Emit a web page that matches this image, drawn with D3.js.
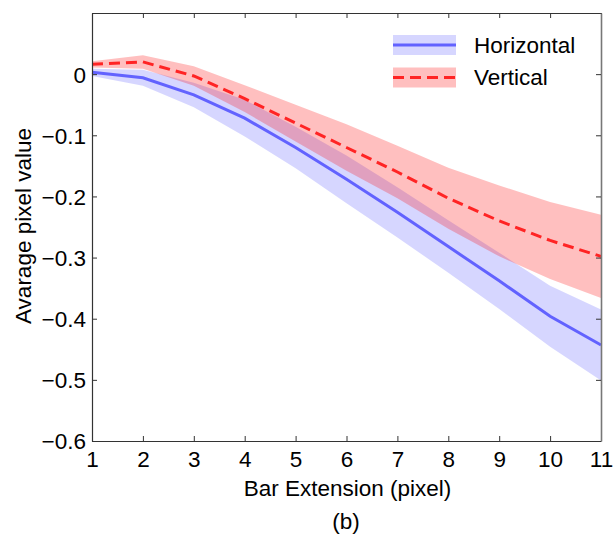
<!DOCTYPE html>
<html>
<head>
<meta charset="utf-8">
<script src="https://cdn.jsdelivr.net/npm/d3@7"></script>
<style>
  html, body { margin: 0; padding: 0; background: #fff; }
  svg { display: block; }
  text { font-family: "Liberation Sans", Arial, Helvetica, sans-serif; fill: #000; }
</style>
</head>
<body>
<svg id="chart" width="613" height="537"></svg>
<script>
// ---- data ----
const extensions = [1, 2, 3, 4, 5, 6, 7, 8, 9, 10, 11];
const horizontalMean = [0.003, -0.006, -0.034, -0.072, -0.120, -0.172, -0.226, -0.282, -0.338, -0.396, -0.443];
const horizontalStd  = [0.006, 0.013, 0.020, 0.030, 0.034, 0.039, 0.041, 0.043, 0.046, 0.050, 0.058];
const verticalMean   = [0.016, 0.020, -0.003, -0.040, -0.080, -0.120, -0.160, -0.203, -0.240, -0.272, -0.298];
const verticalStd    = [0.005, 0.011, 0.016, 0.022, 0.030, 0.038, 0.043, 0.050, 0.058, 0.063, 0.068];
const xTicks = [1, 2, 3, 4, 5, 6, 7, 8, 9, 10, 11];
const yTicks = [0, -0.1, -0.2, -0.3, -0.4, -0.5, -0.6];
const seriesNames = ["Horizontal", "Vertical"];

(function () {
const svg = d3.select("#chart");
const L = 92, R = 601, T = 13, B = 441;
const x = d3.scaleLinear().domain([1, 11]).range([L, R]);
const y = d3.scaleLinear().domain([-0.6, 0.1]).range([B, T]);

const series = [
  { name: seriesNames[0], mean: horizontalMean, std: horizontalStd, band: "rgba(0,0,255,0.16)", line: "#6262ff", dash: null },
  { name: seriesNames[1], mean: verticalMean, std: verticalStd, band: "rgba(255,0,0,0.25)", line: "#ff2424", dash: "11,6" }
];

const area = d3.area()
  .x((d, i) => x(extensions[i]))
  .y0(d => y(d.m - d.s))
  .y1(d => y(d.m + d.s));
const line = d3.line()
  .x((d, i) => x(extensions[i]))
  .y(d => y(d.m));

const plot = svg.append("g");
series.forEach(s => {
  const pts = s.mean.map((m, i) => ({ m: m, s: s.std[i] }));
  plot.append("path").attr("d", area(pts)).attr("fill", s.band).attr("stroke", "none");
});
series.forEach(s => {
  const pts = s.mean.map((m, i) => ({ m: m, s: s.std[i] }));
  plot.append("path").attr("d", line(pts)).attr("fill", "none")
    .attr("stroke", s.line).attr("stroke-width", 3)
    .attr("stroke-dasharray", s.dash);
});

// ---- axes ----
const fs = 22.5;
const axisColor = "#333";
const gBottom = svg.append("g").attr("transform", `translate(0,${B})`)
  .call(d3.axisBottom(x).tickValues(xTicks).tickSizeInner(-5).tickSizeOuter(0).tickPadding(10));
const gTop = svg.append("g").attr("transform", `translate(0,${T})`)
  .call(d3.axisTop(x).tickValues(xTicks).tickSizeInner(-5).tickSizeOuter(0).tickFormat(""));
const gLeft = svg.append("g").attr("transform", `translate(${L},0)`)
  .call(d3.axisLeft(y).tickValues(yTicks).tickSizeInner(-5).tickSizeOuter(0).tickPadding(6)
    .tickFormat(d => d === 0 ? "0" : d3.format(".1f")(d).replace("-", "\u2212")));
const gRight = svg.append("g").attr("transform", `translate(${R},0)`)
  .call(d3.axisRight(y).tickValues(yTicks).tickSizeInner(-5).tickSizeOuter(0).tickFormat(""));
[gBottom, gTop, gLeft, gRight].forEach(g => {
  g.select(".domain").attr("stroke", axisColor).attr("stroke-width", 1.2);
  g.selectAll(".tick line").attr("stroke", axisColor).attr("stroke-width", 1);
  g.selectAll("text").attr("font-size", fs).attr("font-family", "Liberation Sans, Arial, sans-serif").attr("fill", "#000");
});
gLeft.selectAll("text").attr("dy", "0.35em");
gRight.select(".domain").attr("stroke", "#777").attr("stroke-width", 1.6);

// ---- labels ----
svg.append("text").attr("x", (L + R) / 2 + 1).attr("y", 496)
  .attr("text-anchor", "middle").attr("font-size", fs).text("Bar Extension (pixel)");
svg.append("text").attr("transform", `translate(31,226) rotate(-90)`)
  .attr("text-anchor", "middle").attr("font-size", fs).text("Avarage pixel value");
svg.append("text").attr("x", 346).attr("y", 529)
  .attr("text-anchor", "middle").attr("font-size", fs).text("(b)");

// ---- legend ----
const legend = svg.append("g");
const rows = [{ s: series[0], cy: 45 }, { s: series[1], cy: 77.5 }];
rows.forEach(r => {
  legend.append("rect").attr("x", 393).attr("y", r.cy - 10).attr("width", 63).attr("height", 20)
    .attr("fill", r.s.band);
  legend.append("line").attr("x1", 393).attr("x2", 456).attr("y1", r.cy).attr("y2", r.cy)
    .attr("stroke", r.s.line).attr("stroke-width", 3).attr("stroke-dasharray", r.s.dash);
  legend.append("text").attr("x", 474).attr("y", r.cy).attr("dy", "0.35em")
    .attr("font-size", fs).text(r.s.name);
});
})();
</script>
</body>
</html>
